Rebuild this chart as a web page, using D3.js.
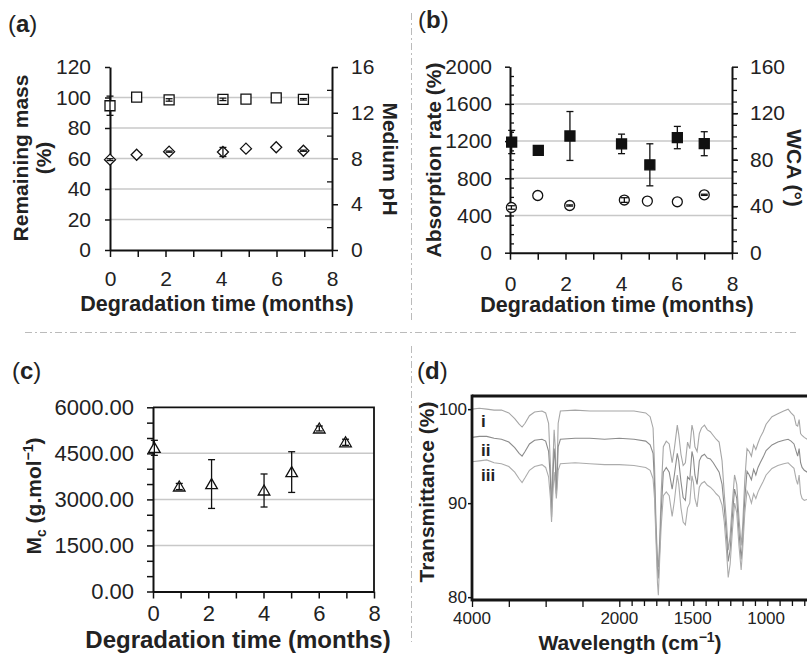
<!DOCTYPE html>
<html>
<head>
<script src="https://d3js.org/d3.v7.min.js"></script>
<style>
  body { margin: 0; background: #fff; }
  svg { display: block; font-family: 'Liberation Sans', Arial, sans-serif; }
</style>
</head>
<body>
<div id="chart"></div>
<script>
// (a) remaining mass and medium pH
const monthsA = [0, 0.96, 2.13, 4.07, 4.9, 5.99, 6.97];
const massValues = [94.6, 100.3, 98.4, 98.8, 99.0, 99.7, 98.8];
const massErr = [6.3, 0, 0.8, 0.8, 0, 0, 0.5];
const phValues = [7.9, 8.33, 8.6, 8.57, 8.86, 8.98, 8.68];
const phErr = [0.08, 0, 0.05, 0.4, 0, 0, 0.05];

// (b) absorption rate and water contact angle
const monthsAbs = [0.06, 1.02, 2.16, 4.02, 5.04, 6.03, 7.0];
const absValues = [1190, 1100, 1255, 1170, 945, 1238, 1172];
const absErr = [125, 0, 263, 105, 226, 120, 129];
const monthsWca = [0.05, 1.0, 2.15, 4.12, 4.95, 6.03, 7.0];
const wcaValues = [38.9, 49.2, 40.6, 45.3, 44.4, 43.8, 49.8];
const wcaErr = [1.5, 0, 0.5, 2, 0, 0, 0.5];

// (c) Mc
const monthsMc = [0.05, 0.95, 2.12, 4.02, 5.02, 6.02, 6.97];
const mcValues = [4680, 3420, 3500, 3290, 3890, 5310, 4860];
const mcErr = [245, 100, 794, 538, 663, 80, 100];

// (d) FTIR spectra (wavenumber, transmittance of i, ii, iii)
const irWave = [4000, 3900, 3800, 3700, 3600, 3500, 3420, 3360, 3320, 3280, 3220, 3150, 3050, 3000, 2960, 2935, 2920, 2905, 2885, 2870, 2855, 2845, 2830, 2800, 2600, 2400, 2200, 2000,
  1900, 1820, 1790, 1770, 1760, 1750, 1740, 1734, 1725, 1715, 1700, 1680, 1660, 1640, 1625, 1605, 1595, 1580, 1565, 1550, 1535, 1520, 1505, 1495, 1485, 1470, 1455, 1440, 1420, 1400, 1380, 1360, 1340, 1320, 1300, 1285, 1270, 1258, 1245, 1230, 1215, 1200, 1185, 1170, 1160, 1145, 1130, 1115, 1100, 1085, 1070, 1055, 1040, 1020, 1000, 960, 920, 880, 850, 830, 810, 795, 785, 775, 765, 755, 740, 720, 700];
const irT1 = [100.0, 100.1, 100.0, 99.9, 99.9, 99.6, 99.0, 98.4, 98.1, 98.5, 99.3, 99.7, 99.8, 99.6, 98.5, 94.0, 89.5, 93.5, 97.8, 96.0, 91.5, 93.5, 98.5, 99.8, 99.9, 99.8, 99.8, 99.8,
  99.8, 99.6, 99.2, 98.0, 94.0, 88.0, 84.0, 83.2, 86.0, 91.0, 96.0, 96.6, 96.3, 94.3, 95.8, 98.3, 97.3, 95.2, 94.0, 94.3, 96.5, 95.8, 98.3, 97.6, 96.0, 95.5, 97.4, 98.0, 98.3, 97.8, 97.6, 97.2, 96.8, 96.5, 94.5, 91.0, 88.0, 85.0, 86.5, 90.0, 93.0, 92.0, 88.5, 85.5, 87.5, 92.5, 95.8, 95.5, 95.0, 96.2, 95.7, 96.4, 97.0, 97.6, 98.4, 99.2, 99.5, 99.8, 100.0, 99.6, 99.3, 98.3, 98.2, 98.9, 97.4, 97.2, 97.0, 96.8, 96.6];
const irT2 = [97.0, 97.1, 97.1, 96.9, 96.8, 96.5, 95.9, 95.3, 95.0, 95.5, 96.3, 96.7, 96.8, 96.6, 95.5, 92.5, 88.5, 92.0, 95.8, 94.5, 91.0, 92.5, 96.0, 96.8, 96.9, 96.9, 96.8, 96.9,
  96.8, 96.6, 96.2, 95.3, 92.0, 87.0, 83.0, 82.0, 85.0, 89.0, 93.3, 93.8, 93.3, 91.5, 93.0, 95.3, 94.5, 92.3, 90.6, 90.3, 92.8, 92.5, 95.5, 94.8, 93.0, 92.0, 94.5, 95.0, 95.2, 94.8, 94.7, 94.3, 93.8, 93.3, 92.0, 89.5, 86.5, 83.8, 85.0, 88.5, 91.5, 90.5, 87.0, 84.0, 86.0, 90.5, 93.4, 93.0, 92.5, 93.6, 93.0, 93.8, 94.3, 94.9, 95.6, 96.2, 96.5, 96.7, 96.8, 96.6, 96.3, 95.5, 95.0, 95.8, 94.3, 93.8, 93.5, 93.3, 93.2];
const irT3 = [94.4, 94.5, 94.6, 94.3, 94.2, 93.9, 93.3, 92.6, 92.2, 92.7, 93.5, 93.9, 94.1, 93.8, 92.8, 90.5, 88.0, 90.5, 93.3, 92.0, 90.5, 91.5, 93.5, 94.2, 94.3, 94.2, 94.1, 94.1,
  94.0, 93.8, 93.5, 92.6, 90.5, 86.0, 81.5, 80.2, 84.0, 87.5, 90.8, 91.2, 90.8, 88.6, 90.2, 93.0, 92.0, 89.5, 88.0, 87.7, 89.5, 90.0, 92.9, 92.2, 90.5, 89.6, 91.7, 92.1, 92.3, 91.9, 91.7, 91.4, 91.0, 90.7, 89.8, 88.0, 85.0, 82.1, 83.5, 87.0, 90.0, 89.0, 85.5, 82.9, 85.0, 89.0, 91.3, 90.8, 90.0, 91.0, 90.5, 91.2, 91.7, 92.3, 93.0, 93.7, 94.0, 94.2, 94.3, 94.0, 93.7, 92.5, 92.0, 93.0, 91.0, 90.5, 90.3, 90.4, 90.2];
const irLabels = ["i", "ii", "iii"];
const irTickMajor = [4000, 3500, 3000, 2500, 2000];
const irTickLabels = [4000, 2000, 1500, 1000];
const irYTicks = [80, 90, 100];

const INK = "#111";
const TXT = "#222";

const svg = d3.select("#chart").append("svg")
    .attr("width", 807)
    .attr("height", 654);

svg.append("rect").attr("width", 807).attr("height", 654).attr("fill", "#fff");

function styleAxis(g, size) {
    g.attr("font-size", size).attr("font-family", null);
    g.select(".domain").attr("stroke", INK).attr("stroke-width", 2);
    g.selectAll(".tick line").attr("stroke", INK).attr("stroke-width", 1.5);
    g.selectAll(".tick text").attr("fill", TXT);
    return g;
}

function minorTicks(g, axis) {
    g.call(axis);
    g.select(".domain").remove();
    g.selectAll(".tick line").attr("stroke", INK).attr("stroke-width", 1.3);
}

function grid(g, y, values, x0, x1) {
    g.append("g").selectAll("line").data(values).join("line")
        .attr("x1", x0).attr("x2", x1)
        .attr("y1", d => y(d)).attr("y2", d => y(d))
        .attr("stroke", "#c8c8c8").attr("stroke-width", 1.5);
}

function errorBars(g, data, x, y) {
    const bars = g.append("g").selectAll("g").data(data.filter(d => d[2] > 0)).join("g")
        .attr("stroke", INK).attr("stroke-width", 1.3);
    bars.append("line")
        .attr("x1", d => x(d[0])).attr("x2", d => x(d[0]))
        .attr("y1", d => y(d[1] - d[2])).attr("y2", d => y(d[1] + d[2]));
    [-1, 1].forEach(s => {
        bars.append("line")
            .attr("x1", d => x(d[0]) - 3.5).attr("x2", d => x(d[0]) + 3.5)
            .attr("y1", d => y(d[1] + s * d[2])).attr("y2", d => y(d[1] + s * d[2]));
    });
}

function markers(g, data, x, y, shape, fill) {
    g.append("g").selectAll("path").data(data).join("path")
        .attr("d", shape)
        .attr("transform", d => `translate(${x(d[0])},${y(d[1])})`)
        .attr("fill", fill)
        .attr("stroke", INK)
        .attr("stroke-width", 1.3);
}

const squarePath = "M-5,-5H5V5H-5Z";
const diamondPath = "M0,-5.5L5.5,0L0,5.5L-5.5,0Z";
const circlePath = d3.symbol(d3.symbolCircle, 78)();
const trianglePath = "M0,-5.5L5.8,4.5L-5.8,4.5Z";

function bottomAxis(g, x, yPos, size, pad) {
    g.append("g")
        .attr("transform", `translate(0,${yPos})`)
        .call(d3.axisBottom(x).tickValues(d3.range(0, 9)).tickSize(7).tickSizeOuter(0).tickPadding(pad)
            .tickFormat(d => d % 2 ? "" : d))
        .call(s => styleAxis(s, size));
}

function panelLabel(x, y, letter) {
    const t = svg.append("text").attr("x", x).attr("y", y)
        .attr("font-size", 24).attr("fill", TXT);
    t.append("tspan").text("(");
    t.append("tspan").attr("font-weight", "bold").text(letter);
    t.append("tspan").text(")");
}

function rotLabel(x, y, angle, size, text) {
    return svg.append("text")
        .attr("transform", `translate(${x},${y}) rotate(${angle})`)
        .attr("text-anchor", "middle")
        .attr("font-size", size).attr("font-weight", "bold").attr("fill", TXT)
        .text(text);
}

// ---------- dividers ----------
const divider = svg.append("g").attr("stroke", "#bbb").attr("stroke-width", 1)
    .attr("stroke-dasharray", "7,3,2,3");
divider.append("line").attr("x1", 25).attr("x2", 796).attr("y1", 332.5).attr("y2", 332.5);
divider.append("line").attr("x1", 411.5).attr("x2", 411.5).attr("y1", 13).attr("y2", 322);
divider.append("line").attr("x1", 411.5).attr("x2", 411.5).attr("y1", 346).attr("y2", 642);

// ---------- panel (a) ----------
{
    const g = svg.append("g");
    const x = d3.scaleLinear().domain([0, 8]).range([110, 332]);
    const y = d3.scaleLinear().domain([0, 120]).range([250, 67]);
    const y2 = d3.scaleLinear().domain([0, 16]).range([250, 67]);

    grid(g, y, [20, 40, 60, 80, 100], 110, 332);

    g.append("g").attr("transform", "translate(110,0)")
        .call(d3.axisLeft(y).tickValues(d3.range(0, 121, 20)).tickSize(5).tickSizeOuter(0).tickPadding(14))
        .call(s => styleAxis(s, 21));
    g.append("g").attr("transform", "translate(332,0)")
        .call(d3.axisRight(y2).tickValues([0, 4, 8, 12, 16]).tickSize(6).tickSizeOuter(0).tickPadding(13))
        .call(s => styleAxis(s, 21));
    g.append("g").attr("transform", "translate(332,0)")
        .call(s => minorTicks(s, d3.axisRight(y2).tickValues([2, 6, 10, 14]).tickSize(-5).tickFormat("")));
    bottomAxis(g, x, 250, 21, 14);

    const mass = d3.zip(monthsA, massValues, massErr);
    const ph = d3.zip(monthsA, phValues, phErr);
    markers(g, mass, x, y, squarePath, "#fff");
    markers(g, ph, x, y2, diamondPath, "#fff");
    errorBars(g, mass, x, y);
    errorBars(g, ph, x, y2);

    panelLabel(8, 32, "a");
    rotLabel(28, 158, -90, 21, "Remaining mass");
    rotLabel(51, 158, -90, 21, "(%)");
    rotLabel(383, 159, 90, 21, "Medium pH");
    svg.append("text").attr("x", 217).attr("y", 311).attr("text-anchor", "middle")
        .attr("font-size", 21.5).attr("font-weight", "bold").attr("fill", TXT)
        .text("Degradation time (months)");
}

// ---------- panel (b) ----------
{
    const g = svg.append("g");
    const x = d3.scaleLinear().domain([0, 8]).range([510, 732]);
    const y = d3.scaleLinear().domain([0, 2000]).range([252.7, 66.7]);
    const y2 = d3.scaleLinear().domain([0, 160]).range([252.7, 66.7]);

    grid(g, y, [400, 800, 1200, 1600], 510, 732);

    g.append("g").attr("transform", "translate(510,0)")
        .call(d3.axisLeft(y).tickValues(d3.range(0, 2001, 400)).tickSize(5).tickSizeOuter(0).tickPadding(13)
            .tickFormat(d3.format("d")))
        .call(s => styleAxis(s, 21));
    g.append("g").attr("transform", "translate(510,0)")
        .call(s => minorTicks(s, d3.axisLeft(y).tickValues(d3.range(100, 2000, 100)).tickSize(-4).tickFormat("")));
    g.append("g").attr("transform", "translate(732,0)")
        .call(d3.axisRight(y2).tickValues(d3.range(0, 161, 40)).tickSize(6).tickSizeOuter(0).tickPadding(12))
        .call(s => styleAxis(s, 21));
    g.append("g").attr("transform", "translate(732,0)")
        .call(s => minorTicks(s, d3.axisRight(y2).tickValues(d3.range(10, 160, 10)).tickSize(5).tickFormat("")));
    bottomAxis(g, x, 252.7, 21, 16);

    const abs = d3.zip(monthsAbs, absValues, absErr);
    const wca = d3.zip(monthsWca, wcaValues, wcaErr);
    errorBars(g, abs, x, y);
    markers(g, abs, x, y, squarePath, INK);
    markers(g, wca, x, y2, circlePath, "#fff");
    errorBars(g, wca, x, y2);

    panelLabel(418, 28, "b");
    rotLabel(441, 160, -90, 21, "Absorption rate (%)");
    rotLabel(787, 168, 90, 21, "WCA (°)");
    svg.append("text").attr("x", 617).attr("y", 312).attr("text-anchor", "middle")
        .attr("font-size", 21.5).attr("font-weight", "bold").attr("fill", TXT)
        .text("Degradation time (months)");
}

// ---------- panel (c) ----------
{
    const g = svg.append("g");
    const x = d3.scaleLinear().domain([0, 8]).range([153, 374]);
    const y = d3.scaleLinear().domain([0, 6000]).range([591.5, 407.3]);

    grid(g, y, [1500, 3000, 4500], 153, 374);
    g.append("path")
        .attr("d", `M${x(0)},${y(6000)}H${x(8)}V${y(0)}`)
        .attr("fill", "none").attr("stroke", INK).attr("stroke-width", 1.8);

    g.append("g").attr("transform", "translate(153,0)")
        .call(d3.axisLeft(y).tickValues(d3.range(0, 6001, 500)).tickSize(6).tickSizeOuter(0).tickPadding(13)
            .tickFormat(d => d % 1500 === 0 ? d3.format(".2f")(d) : ""))
        .call(s => styleAxis(s, 22));
    bottomAxis(g, x, 591.5, 22, 7);

    const mc = d3.zip(monthsMc, mcValues, mcErr);
    markers(g, mc, x, y, trianglePath, "#fff");
    errorBars(g, mc, x, y);

    panelLabel(12, 379, "c");
    const t = svg.append("text")
        .attr("transform", "translate(41,496) rotate(-90)")
        .attr("text-anchor", "middle")
        .attr("font-size", 21).attr("font-weight", "bold").attr("fill", TXT);
    t.append("tspan").text("M");
    t.append("tspan").attr("font-size", 14).attr("dy", 5).text("c");
    t.append("tspan").attr("dy", -5).text(" (g.mol");
    t.append("tspan").attr("font-size", 14).attr("dy", -8).text("\u22121");
    t.append("tspan").attr("dy", 8).text(")");
    svg.append("text").attr("x", 238).attr("y", 647.5).attr("text-anchor", "middle")
        .attr("font-size", 24).attr("font-weight", "bold").attr("fill", TXT)
        .text("Degradation time (months)");
}

// ---------- panel (d) ----------
{
    const g = svg.append("g");
    const x = d3.scaleLinear().domain([4000, 2000, 500]).range([472, 619.3, 839.5]);
    const y = d3.scaleLinear().domain([79.7, 101.4]).range([600, 396]);

    g.append("clipPath").attr("id", "irclip")
        .append("rect").attr("x", 472).attr("y", 396).attr("width", 400).attr("height", 204);

    const line = d3.line().x(d => x(d[0])).y(d => y(d[1]));
    const traces = [irT1, irT2, irT3];
    const colors = ["#a6a6a6", "#8c8c8c", "#acacac"];
    g.append("g").attr("clip-path", "url(#irclip)")
        .selectAll("path").data(traces).join("path")
        .attr("d", t => line(d3.zip(irWave, t)))
        .attr("fill", "none")
        .attr("stroke", (t, i) => colors[i])
        .attr("stroke-width", 1.1);

    // box: top, left and bottom edges
    const box = g.append("g").attr("stroke", "#151515").attr("stroke-width", 2.8);
    box.append("line").attr("x1", x(4000)).attr("x2", 807).attr("y1", y(101.4)).attr("y2", y(101.4));
    box.append("line").attr("x1", x(4000)).attr("x2", x(4000)).attr("y1", y(101.4) - 1.4).attr("y2", y(79.7) + 1.4);
    box.append("line").attr("x1", x(4000)).attr("x2", 807).attr("y1", y(79.7)).attr("y2", y(79.7));

    const minor = d3.range(2000 - 84, 450, -84);
    g.append("g").attr("transform", `translate(0,${y(79.7)})`)
        .call(s => minorTicks(s, d3.axisBottom(x).tickValues(minor).tickSize(6).tickFormat("")));
    g.append("g").attr("transform", `translate(0,${y(79.7)})`)
        .call(s => minorTicks(s, d3.axisBottom(x).tickValues(irTickMajor).tickSize(7).tickFormat("")));
    g.append("g").selectAll("text").data(irTickLabels).join("text")
        .attr("x", d => x(d)).attr("y", 624)
        .attr("text-anchor", "middle").attr("font-size", 17).attr("fill", TXT)
        .text(d => d);

    g.append("g").attr("transform", `translate(${x(4000)},0)`)
        .call(d3.axisLeft(y).tickValues(irYTicks).tickSize(4).tickPadding(1))
        .call(s => styleAxis(s, 17))
        .call(s => s.select(".domain").remove());

    g.append("g").selectAll("text").data(irLabels).join("text")
        .attr("x", 481).attr("y", (d, i) => [426.5, 456, 481][i])
        .attr("font-size", 17).attr("font-weight", "bold").attr("fill", TXT)
        .text(d => d);

    panelLabel(417, 379, "d");
    rotLabel(434, 492, -90, 21, "Transmittance  (%)");
    const t = svg.append("text").attr("x", 630).attr("y", 650).attr("text-anchor", "middle")
        .attr("font-size", 21).attr("font-weight", "bold").attr("fill", TXT);
    t.append("tspan").text("Wavelength (cm");
    t.append("tspan").attr("font-size", 14).attr("dy", -8).text("\u22121");
    t.append("tspan").attr("dy", 8).text(")");
}
</script>
</body>
</html>
